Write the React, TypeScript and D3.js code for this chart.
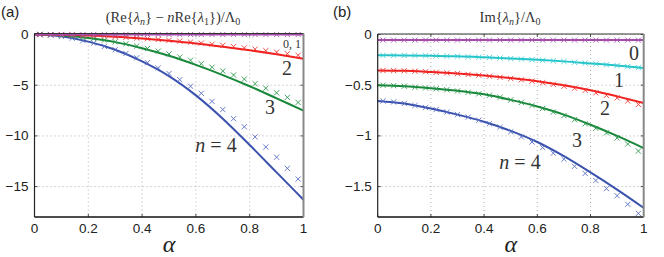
import React from 'react';
import * as d3 from 'd3';

// alpha grid for the solid curves and for the cross markers
const alphaLine = [0, 0.1, 0.2, 0.3, 0.4, 0.5, 0.6, 0.7, 0.8, 0.9, 1.0];
const alphaMarks = [0.02, 0.06, 0.10, 0.14, 0.18, 0.22, 0.26, 0.30, 0.34, 0.38, 0.42, 0.46, 0.50,
  0.54, 0.58, 0.62, 0.66, 0.70, 0.74, 0.78, 0.82, 0.86, 0.90, 0.94, 0.98];

const xTicks = [0, 0.2, 0.4, 0.6, 0.8, 1];
const yTicksA = [0, -5, -10, -15];
const yTicksB = [0, -0.5, -1, -1.5];

// panel (a): (Re{λn} - n Re{λ1}) / Λ0
const reLine01 = [0, 0, 0, 0, 0, 0, 0, 0, 0, 0, 0];
const reLine2 = [0, -0.02, -0.1, -0.22, -0.4, -0.62, -0.88, -1.2, -1.55, -1.95, -2.4];
const reLine3 = [0, -0.08, -0.35, -0.75, -1.35, -2.1, -3.0, -4.0, -5.1, -6.3, -7.5];
const reLine4 = [0, -0.18, -0.7, -1.5, -2.65, -4.1, -6.0, -8.3, -10.9, -13.6, -16.3];

const reMarks01 = [0, 0, 0, 0, 0, 0, 0, 0, 0, 0, 0, 0, 0, 0, 0, 0, 0, 0, 0, 0, 0, 0, 0, 0, 0];
const reMarks2 = [0, -0.01, -0.02, -0.05, -0.08, -0.12, -0.16, -0.21, -0.27, -0.34, -0.41, -0.49, -0.57,
  -0.65, -0.75, -0.85, -0.96, -1.07, -1.19, -1.32, -1.45, -1.59, -1.74, -1.89, -2.05];
const reMarks3 = [0, -0.02, -0.08, -0.15, -0.27, -0.4, -0.55, -0.72, -0.92, -1.14, -1.38, -1.64, -1.92,
  -2.22, -2.54, -2.88, -3.23, -3.6, -4.0, -4.4, -4.85, -5.3, -5.75, -6.2, -6.7];
const reMarks4 = [0, -0.06, -0.18, -0.36, -0.6, -0.85, -1.17, -1.5, -1.87, -2.3, -2.78, -3.3, -3.85,
  -4.45, -5.1, -5.8, -6.6, -7.4, -8.3, -9.1, -10.1, -11.1, -12.1, -13.2, -14.25];

// panel (b): Im{λn} / Λ0
const imLine0 = [-0.055, -0.055, -0.055, -0.055, -0.055, -0.055, -0.055, -0.055, -0.055, -0.055, -0.055];
const imLine1 = [-0.205, -0.206, -0.21, -0.215, -0.225, -0.237, -0.25, -0.265, -0.285, -0.305, -0.33];
const imLine2 = [-0.355, -0.358, -0.37, -0.385, -0.405, -0.43, -0.46, -0.5, -0.55, -0.61, -0.675];
const imLine3 = [-0.5, -0.51, -0.53, -0.555, -0.59, -0.645, -0.71, -0.79, -0.89, -1.0, -1.12];
const imLine4 = [-0.655, -0.68, -0.73, -0.79, -0.86, -0.95, -1.06, -1.2, -1.36, -1.53, -1.71];

const imMarks0 = [-0.055, -0.055, -0.055, -0.055, -0.055, -0.055, -0.055, -0.055, -0.055, -0.055, -0.055,
  -0.055, -0.055, -0.055, -0.055, -0.055, -0.055, -0.055, -0.055, -0.055, -0.055, -0.055, -0.055, -0.055, -0.055];
const imMarks1 = [-0.205, -0.205, -0.206, -0.207, -0.209, -0.211, -0.213, -0.215, -0.219, -0.223, -0.227,
  -0.232, -0.237, -0.242, -0.248, -0.254, -0.26, -0.266, -0.274, -0.282, -0.29, -0.298, -0.307, -0.316, -0.326];
const imMarks2 = [-0.355, -0.356, -0.358, -0.362, -0.367, -0.373, -0.379, -0.386, -0.394, -0.402, -0.412,
  -0.422, -0.434, -0.447, -0.46, -0.475, -0.492, -0.51, -0.53, -0.55, -0.575, -0.6, -0.625, -0.655, -0.69];
const imMarks3 = [-0.5, -0.505, -0.51, -0.52, -0.527, -0.535, -0.545, -0.557, -0.57, -0.585, -0.6,
  -0.62, -0.645, -0.67, -0.7, -0.73, -0.765, -0.8, -0.84, -0.88, -0.925, -0.97, -1.02, -1.08, -1.15];
const imMarks4 = [-0.655, -0.665, -0.68, -0.7, -0.72, -0.74, -0.765, -0.79, -0.815, -0.845, -0.88,
  -0.915, -0.96, -1.01, -1.06, -1.115, -1.17, -1.23, -1.3, -1.37, -1.44, -1.52, -1.59, -1.675, -1.765];

const colors = {
  purple: '#a24aa8',
  cyan: '#22c3c9',
  red: '#f0201e',
  green: '#17873a',
  blue: '#3a52ad',
};
const markColors = {
  purple: '#a856b0',
  cyan: '#3fcfd3',
  red: '#ee3a36',
  green: '#2f9a50',
  blue: '#5a6fc4',
};

const serif = 'Liberation Serif, DejaVu Serif, serif';
const sans = 'Liberation Sans, Arial, sans-serif';

function Cross({ x, y, color }) {
  const s = 2.6;
  return (
    <path d={`M${x - s},${y - s}L${x + s},${y + s}M${x - s},${y + s}L${x + s},${y - s}`}
      stroke={color} strokeWidth={0.9} fill="none" />
  );
}

function Panel({ left, right, top, bottom, yDomain, yTicks, series, children }) {
  const x = d3.scaleLinear().domain([0, 1]).range([left, right]);
  const y = d3.scaleLinear().domain(yDomain).range([bottom, top]);
  const line = d3.line().x((d, i) => x(alphaLine[i])).y(d => y(d)).curve(d3.curveMonotoneX);
  const fmtX = d3.format('');
  const fmtY = d3.format('');

  return (
    <g>
      {/* grid */}
      {xTicks.slice(1, -1).map(t => (
        <line key={'gx' + t} x1={x(t)} x2={x(t)} y1={top} y2={bottom}
          stroke="#9a9a9a" strokeWidth={0.8} strokeDasharray="1,3" />
      ))}
      {yTicks.map(t => (
        <line key={'gy' + t} x1={left} x2={right} y1={y(t)} y2={y(t)}
          stroke="#9a9a9a" strokeWidth={0.8} strokeDasharray="1,3" />
      ))}
      {/* tick marks */}
      {xTicks.map(t => (
        <g key={'tx' + t}>
          <line x1={x(t)} x2={x(t)} y1={bottom} y2={bottom - 3} stroke="#222" strokeWidth={0.8} />
          <line x1={x(t)} x2={x(t)} y1={top} y2={top + 3} stroke="#222" strokeWidth={0.8} />
        </g>
      ))}
      {yTicks.map(t => (
        <g key={'ty' + t}>
          <line x1={left} x2={left + 3} y1={y(t)} y2={y(t)} stroke="#222" strokeWidth={0.8} />
          <line x1={right} x2={right - 3} y1={y(t)} y2={y(t)} stroke="#222" strokeWidth={0.8} />
        </g>
      ))}
      {/* curves */}
      {series.map((s, k) => (
        <g key={'s' + k}>
          <path d={line(s.line)} fill="none" stroke={colors[s.color]} strokeWidth={2} />
          {s.marks.map((v, i) => (
            <Cross key={i} x={x(alphaMarks[i])} y={y(v)} color={markColors[s.color]} />
          ))}
        </g>
      ))}
      {/* frame */}
      <line x1={left} x2={left} y1={top} y2={bottom} stroke="#222" strokeWidth={1.2} />
      <line x1={left} x2={right} y1={top} y2={top} stroke="#333" strokeWidth={1} />
      <line x1={left} x2={right} y1={bottom} y2={bottom} stroke="#111" strokeWidth={1.5} />
      <line x1={right} x2={right} y1={top} y2={bottom} stroke="#888" strokeWidth={2} />
      {/* tick labels */}
      {xTicks.map(t => (
        <text key={'lx' + t} x={x(t)} y={bottom + 16} textAnchor="middle"
          fontFamily={sans} fontSize={13.5} fill="#222">{fmtX(t)}</text>
      ))}
      {yTicks.map(t => (
        <text key={'ly' + t} x={left - 6} y={y(t) + 4.5} textAnchor="end"
          fontFamily={sans} fontSize={13.5} fill="#222">{fmtY(t)}</text>
      ))}
      <text x={(left + right) / 2} y={bottom + 35} textAnchor="middle"
        fontFamily={serif} fontStyle="italic" fontSize={24} fill="#222">α</text>
      {children}
    </g>
  );
}

export default function App() {
  const seriesA = [
    { color: 'blue', line: reLine4, marks: reMarks4 },
    { color: 'green', line: reLine3, marks: reMarks3 },
    { color: 'red', line: reLine2, marks: reMarks2 },
    { color: 'purple', line: reLine01, marks: reMarks01 },
  ];
  const seriesB = [
    { color: 'blue', line: imLine4, marks: imMarks4 },
    { color: 'green', line: imLine3, marks: imMarks3 },
    { color: 'red', line: imLine2, marks: imMarks2 },
    { color: 'cyan', line: imLine1, marks: imMarks1 },
    { color: 'purple', line: imLine0, marks: imMarks0 },
  ];
  const lbl = { fontFamily: serif, fill: '#333' };

  return (
    <svg width={664} height={257} style={{ position: 'absolute', left: 0, top: 0, background: '#fff' }}>
      <text x={1} y={17} fontFamily={sans} fontSize={15} fill="#222">(a)</text>
      <text x={333} y={17} fontFamily={sans} fontSize={15} fill="#222">(b)</text>

      <text x={173} y={22} textAnchor="middle" fontFamily={serif} fontSize={14.5} fill="#333">
        (Re{'{'}<tspan fontStyle="italic">λ</tspan><tspan fontStyle="italic" fontSize={10} dy={3}>n</tspan>
        <tspan dy={-3}>{'}'} − </tspan><tspan fontStyle="italic">n</tspan>Re{'{'}
        <tspan fontStyle="italic">λ</tspan><tspan fontSize={10} dy={3}>1</tspan>
        <tspan dy={-3}>{'}'})/Λ</tspan><tspan fontSize={10} dy={3}>0</tspan>
      </text>
      <text x={510} y={22} textAnchor="middle" fontFamily={serif} fontSize={14.5} fill="#333">
        Im{'{'}<tspan fontStyle="italic">λ</tspan><tspan fontStyle="italic" fontSize={10} dy={3}>n</tspan>
        <tspan dy={-3}>{'}'}/Λ</tspan><tspan fontSize={10} dy={3}>0</tspan>
      </text>

      <Panel left={34.5} right={303.5} top={33.5} bottom={217} yDomain={[-18, 0.1]}
        yTicks={yTicksA} series={seriesA}>
        <text x={292} y={48} textAnchor="middle" fontSize={12} {...lbl}>0, 1</text>
        <text x={287} y={75} textAnchor="middle" fontSize={20} {...lbl}>2</text>
        <text x={270} y={114} textAnchor="middle" fontSize={20} {...lbl}>3</text>
        <text x={216} y={152} textAnchor="middle" fontSize={20} {...lbl}>
          <tspan fontStyle="italic">n</tspan> = 4
        </text>
      </Panel>

      <Panel left={377.7} right={643.7} top={34} bottom={217} yDomain={[-1.8, 0.005]}
        yTicks={yTicksB} series={seriesB}>
        <text x={634} y={60} textAnchor="middle" fontSize={20} {...lbl}>0</text>
        <text x={619} y={87} textAnchor="middle" fontSize={20} {...lbl}>1</text>
        <text x={605} y={115} textAnchor="middle" fontSize={20} {...lbl}>2</text>
        <text x={577} y={147} textAnchor="middle" fontSize={20} {...lbl}>3</text>
        <text x={520} y={169} textAnchor="middle" fontSize={20} {...lbl}>
          <tspan fontStyle="italic">n</tspan> = 4
        </text>
      </Panel>
    </svg>
  );
}
